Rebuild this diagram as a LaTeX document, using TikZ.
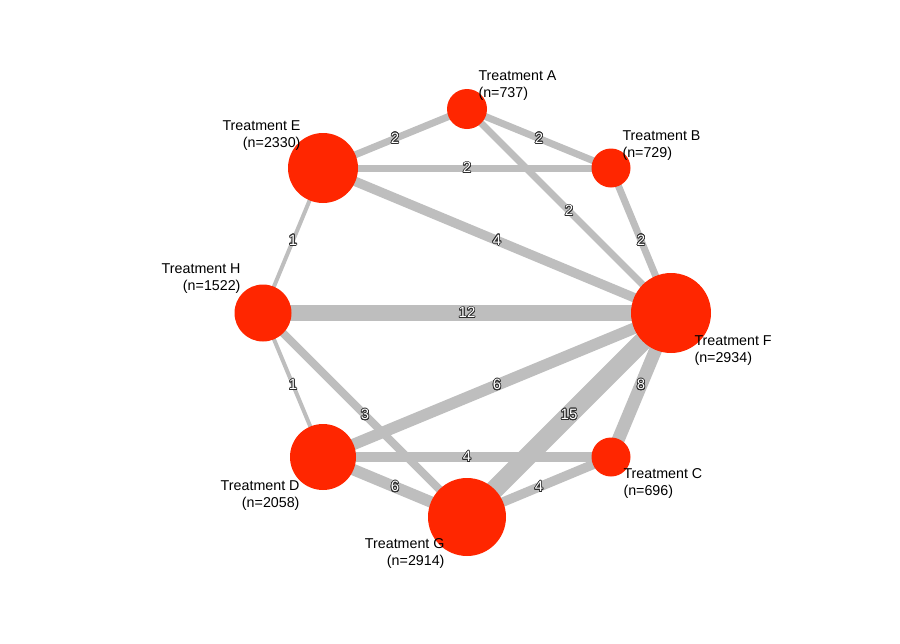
\documentclass[tikz,border=0pt]{standalone}
\usepackage{fontspec}
\setmainfont{Liberation Sans}
\usepackage{contour}
\contourlength{0.6pt}
\usetikzlibrary{backgrounds}

\definecolor{trtred}{RGB}{255,38,0}
\definecolor{linkgray}{RGB}{190,190,190}
\definecolor{numedge}{RGB}{45,45,45}

\tikzset{every picture/.style={line width=0.75pt}}
\tikzset{
  trt/.style={circle, fill=trtred, draw=none, inner sep=0pt, minimum size=#1},
  link/.style={draw=linkgray, line width=#1},
  num/.style={inner sep=0pt, font=\fontsize{11.2}{12}\selectfont},
  trtname/.style={inner sep=0pt, font=\fontsize{10.7}{12.8}\selectfont}
}
\newcommand{\edgenum}[1]{\contour{numedge}{\textcolor{white}{#1}}}

\begin{document}
\begin{tikzpicture}[x=0.75pt,y=0.75pt,yscale=-1,xscale=1]
\useasboundingbox (0,0) rectangle (900,643);

%Treatment circles
\node [trt=30pt]    (trtA) at (467,109) {};
\node [trt=29.25pt] (trtB) at (611,168) {};
\node [trt=60pt]    (trtF) at (671,313) {};
\node [trt=29.25pt] (trtC) at (611,457) {};
\node [trt=58.5pt]  (trtG) at (467,517) {};
\node [trt=49.5pt]  (trtD) at (323,457) {};
\node [trt=42.75pt] (trtH) at (263,313) {};
\node [trt=52.5pt]  (trtE) at (323,168) {};

%Straight Lines, width by number of studies
\begin{scope}[on background layer]
\draw [link=5.25pt] (trtA.center) -- node [num] {\edgenum{2}} (trtE.center) ;
\draw [link=5.25pt] (trtA.center) -- node [num] {\edgenum{2}} (trtB.center) ;
\draw [link=5.25pt] (trtA.center) -- node [num] {\edgenum{2}} (trtF.center) ;
\draw [link=5.25pt] (trtE.center) -- node [num] {\edgenum{2}} (trtB.center) ;
\draw [link=7.1pt]  (trtE.center) -- node [num] {\edgenum{4}} (trtF.center) ;
\draw [link=3pt]    (trtE.center) -- node [num] {\edgenum{1}} (trtH.center) ;
\draw [link=5.25pt] (trtB.center) -- node [num] {\edgenum{2}} (trtF.center) ;
\draw [link=12pt]   (trtH.center) -- node [num] {\edgenum{12}} (trtF.center) ;
\draw [link=3pt]    (trtH.center) -- node [num] {\edgenum{1}} (trtD.center) ;
\draw [link=6pt]    (trtH.center) -- node [num] {\edgenum{3}} (trtG.center) ;
\draw [link=8.6pt]  (trtD.center) -- node [num] {\edgenum{6}} (trtF.center) ;
\draw [link=7.1pt]  (trtD.center) -- node [num] {\edgenum{4}} (trtC.center) ;
\draw [link=8.6pt]  (trtD.center) -- node [num] {\edgenum{6}} (trtG.center) ;
\draw [link=14.25pt] (trtG.center) -- node [num] {\edgenum{15}} (trtF.center) ;
\draw [link=7.1pt]  (trtG.center) -- node [num] {\edgenum{4}} (trtC.center) ;
\draw [link=9.75pt] (trtC.center) -- node [num] {\edgenum{8}} (trtF.center) ;
\end{scope}

% Text Node
\node [trtname, anchor=north west, align=left]  (labA) at (478,70)  {Treatment A\\(n=737)};
% Text Node
\node [trtname, anchor=north west, align=left]  (labB) at (622,130) {Treatment B\\(n=729)};
% Text Node
\node [trtname, anchor=north west, align=left]  (labF) at (694,335) {Treatment F\\(n=2934)};
% Text Node
\node [trtname, anchor=north west, align=left]  (labC) at (623,468) {Treatment C\\(n=696)};
% Text Node
\node [trtname, anchor=north east, align=right] (labE) at (301,120) {Treatment E\\(n=2330)};
% Text Node
\node [trtname, anchor=north east, align=right] (labH) at (241,263) {Treatment H\\(n=1522)};
% Text Node
\node [trtname, anchor=north east, align=right] (labD) at (300,480) {Treatment D\\(n=2058)};
% Text Node
\node [trtname, anchor=north east, align=right] (labG) at (445,538) {Treatment G\\(n=2914)};

\end{tikzpicture}
\end{document}
